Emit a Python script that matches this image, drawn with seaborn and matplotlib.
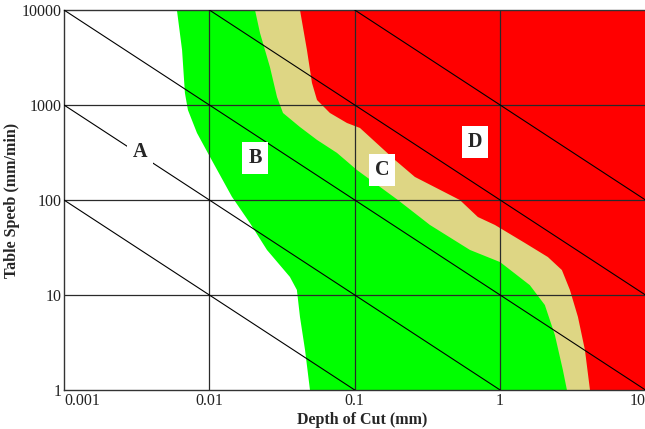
import seaborn as sns
import matplotlib.pyplot as plt
import pandas as pd
import numpy as np

## region boundaries (depth of cut mm, table speed mm/min)
green_edge_depth = [0.00598, 0.00649, 0.00679, 0.00712, 0.00822, 0.0101, 0.0143,
                    0.0190, 0.0249, 0.0358, 0.0400, 0.0420, 0.0455, 0.0492]
green_edge_speed = [10000, 3790, 1336, 886, 507, 284, 108, 57.3, 29.8, 15.5, 11.3,
                    5.87, 2.64, 1]

khaki_edge_depth = [0.0206, 0.0223, 0.0261, 0.0292, 0.0321, 0.0420, 0.0550, 0.0755,
                    0.1035, 0.198, 0.329, 0.620, 1.0, 1.60, 2.03, 2.38, 2.70, 2.88]
khaki_edge_speed = [10000, 5730, 2510, 1213, 824, 586, 429, 313, 207, 100, 54.6,
                    29.8, 22.2, 12.7, 7.85, 3.79, 1.63, 1]

red_edge_depth = [0.0420, 0.0469, 0.0508, 0.0550, 0.0675, 0.0883, 0.1086, 0.189,
                  0.259, 0.528, 0.703, 0.921, 1.48, 2.13, 2.66, 3.02, 3.43, 3.83, 4.15]
red_edge_speed = [10000, 3790, 1706, 1129, 824, 647, 573, 264, 175, 100, 66.2, 54.6,
                  35.3, 25.1, 18.3, 11.3, 5.87, 2.64, 1]

## lines of constant removal rate (depth x speed)
rate_levels = [0.1, 1, 10, 100, 1000]
depth_ticks = [0.001, 0.01, 0.1, 1, 10]
depth_tick_labels = ['0.001', '0.01', '0.1', '1', '10']
speed_ticks = [1, 10, 100, 1000, 10000]
speed_tick_labels = ['1', '10', '100', '1000', '10000']

## region labels
region_names = ['A', 'B', 'C', 'D']
region_depth = [0.00334, 0.0206, 0.154, 0.671]
region_speed = [320, 277, 207, 408]

sns.set_style('white')
plt.rcParams['font.family'] = ['Liberation Serif', 'DejaVu Serif']

fig = plt.figure(figsize=(6.45, 4.29), dpi=100)
ax = fig.add_axes([0.0992, 0.0909, 0.9016, 0.8858])
ax.set_xscale('log')
ax.set_yscale('log')
xmin, xmax = depth_ticks[0], depth_ticks[-1]
ymin, ymax = speed_ticks[0], speed_ticks[-1]

def region(depth, speed, color):
    # polygon from the boundary out to the right edge of the plot
    xs = list(depth) + [xmax * 1.5, xmax * 1.5]
    ys = list(speed) + [ymin, ymax]
    ax.fill(xs, ys, color=color, lw=0, zorder=1)

region(green_edge_depth, green_edge_speed, '#00ff00')
region(khaki_edge_depth, khaki_edge_speed, '#ded684')
region(red_edge_depth, red_edge_speed, '#ff0000')

# grid
for d in depth_ticks[1:-1]:
    ax.axvline(d, color='#2a2a2a', lw=0.9, zorder=2)
for s in speed_ticks[1:-1]:
    ax.axhline(s, color='#2a2a2a', lw=0.9, zorder=2)

# diagonal rate lines
rows = []
for c in rate_levels:
    for d in [xmin, xmax]:
        rows.append({'depth': d, 'speed': c / d, 'rate': c})
rate_df = pd.DataFrame(rows)
sns.lineplot(data=rate_df, x='depth', y='speed', units='rate', estimator=None,
             color='black', lw=0.8, ax=ax, zorder=3, legend=False)

for name, d, s in zip(region_names, region_depth, region_speed):
    ax.text(d, s, name, fontsize=14.5, fontweight='bold', ha='center', va='center',
            zorder=5,
            bbox=dict(boxstyle='square,pad=0.3', fc='white', ec='none'))

ax.set_xlim(xmin, xmax)
ax.set_ylim(ymin, ymax)
ax.set_xticks(depth_ticks)
ax.set_xticklabels(depth_tick_labels)
ax.set_yticks(speed_ticks)
ax.set_yticklabels(speed_tick_labels)
ax.minorticks_off()
ax.tick_params(axis='both', length=0, labelsize=11.5, colors='#222222')
ax.tick_params(axis='x', pad=2)
ax.tick_params(axis='y', pad=2)
ax.get_xticklabels()[0].set_horizontalalignment('left')
ax.get_xticklabels()[-1].set_horizontalalignment('right')

for side in ['left', 'bottom', 'top', 'right']:
    ax.spines[side].set_color('#333333')
    ax.spines[side].set_linewidth(1.0)

ax.set_xlabel('Depth of Cut (mm)', fontsize=11.5, fontweight='bold', labelpad=0)
ax.set_ylabel('Table Speeb (mm/min)', fontsize=11.5, fontweight='bold', labelpad=1)
ax.xaxis.set_label_coords(0.512, -0.057)

fig.savefig('out.png', dpi=100)
